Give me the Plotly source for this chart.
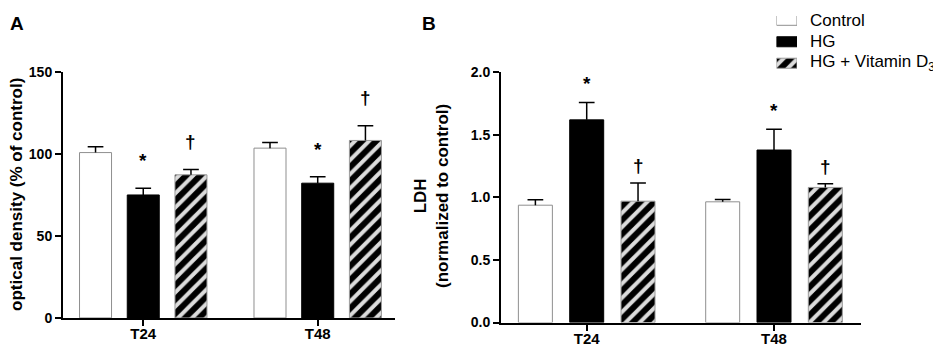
import plotly.graph_objects as go

# ---------------- data ----------------
categories = ["T24", "T48"]
series = ["Control", "HG", "HG + Vitamin D<sub>3</sub>"]

od_control = [101.0, 103.7]
od_hg = [75.1, 82.3]
od_vit = [87.4, 108.4]
od_control_err = [3.5, 3.5]
od_hg_err = [4.1, 3.9]
od_vit_err = [3.2, 9.0]
od_marks = [["", "*", "†"], ["", "*", "†"]]

ldh_control = [0.938, 0.965]
ldh_hg = [1.62, 1.379]
ldh_vit = [0.970, 1.080]
ldh_control_err = [0.043, 0.019]
ldh_hg_err = [0.139, 0.166]
ldh_vit_err = [0.145, 0.029]
ldh_marks = [["", "*", "†"], ["", "*", "†"]]

od_ticks = [0, 50, 100, 150]
ldh_ticks = [0.0, 0.5, 1.0, 1.5, 2.0]
ldh_ticktext = ["0.0", "0.5", "1.0", "1.5", "2.0"]

# ---------------- layout helpers (target picture px -> paper fraction) ----------------
W, H = 933, 350
XOFF = 8
YSCALE, YOFF = 0.952, 16.5


def fx(X):
    return (X - XOFF) / W


def pyy(Y):
    return (Y - YOFF) / YSCALE


def fy(Y):
    return 1 - pyy(Y) / H


FONT = "Liberation Sans, Arial, Helvetica, sans-serif"
STRIPE = dict(shape="/", fgcolor="black", fgopacity=1, bgcolor="#dcdcdc", size=10, solidity=0.6)
bar_styles = [
    dict(color="white", line=dict(color="#8f8f8f", width=1)),
    dict(color="black", line=dict(color="black", width=1)),
    dict(color="#dcdcdc", line=dict(color="#9a9a9a", width=1), pattern=STRIPE),
]

fig = go.Figure()

panels = [
    dict(xa="x", ya="y", vals=[od_control, od_hg, od_vit],
         errs=[od_control_err, od_hg_err, od_vit_err], marks=od_marks,
         width=0.1835, step=0.2735, cap=0.045,
         shift={"*": 15, "†": 16}),
    dict(xa="x2", ya="y2", vals=[ldh_control, ldh_hg, ldh_vit],
         errs=[ldh_control_err, ldh_hg_err, ldh_vit_err], marks=ldh_marks,
         width=0.1815, step=0.274, cap=0.042,
         shift={"*": 6, "†": 5}),
]

annotations = []
for p in panels:
    base = list(range(len(categories)))
    for k, (vals, errs) in enumerate(zip(p["vals"], p["errs"])):
        off = (k - 1) * p["step"]
        fig.add_trace(go.Bar(
            x=base, y=vals, width=p["width"], offset=off - p["width"] / 2,
            marker=bar_styles[k], name=series[k], showlegend=False,
            xaxis=p["xa"], yaxis=p["ya"],
        ))
        ex, ey = [], []
        for i, (v, e) in enumerate(zip(vals, errs)):
            xc = base[i] + off
            ex += [xc, xc, None, xc - p["cap"], xc + p["cap"], None]
            ey += [v, v + e, None, v + e, v + e, None]
            mark = p["marks"][i][k]
            if mark:
                annotations.append(dict(
                    x=xc, y=v + e, xref=p["xa"], yref=p["ya"], text=mark,
                    showarrow=False, yanchor="bottom", yshift=p["shift"][mark],
                    font=dict(family=FONT, size=19, color="black", weight="bold"),
                ))
        fig.add_trace(go.Scatter(
            x=ex, y=ey, mode="lines", line=dict(color="black", width=1.5),
            showlegend=False, hoverinfo="skip", xaxis=p["xa"], yaxis=p["ya"],
        ))

# ---------------- legend (swatches drawn as bars on a hidden axis) ----------------
legend_rows = list(range(len(series)))
row0, row_step, leg_h = 4.5, 22.5, 90.0      # figure px
for k, name in enumerate(series):
    fig.add_trace(go.Bar(
        x=[1], y=[legend_rows[k]], orientation="h", width=10.5 / row_step, base=0,
        marker=bar_styles[k], showlegend=False, hoverinfo="skip",
        xaxis="x3", yaxis="y3",
    ))
    annotations.append(dict(
        x=fx(808), y=legend_rows[k], xref="paper", yref="y3", text=name,
        showarrow=False, xanchor="left", yanchor="middle",
        font=dict(family=FONT, size=17, color="black"),
    ))

axis_common = dict(
    showgrid=False, zeroline=False, showline=True, linecolor="black", linewidth=2,
    ticks="outside", ticklen=6, tickwidth=2, tickcolor="black",
    tickfont=dict(family=FONT, size=14, color="black", weight="bold"),
)
xaxis_extra = dict(tickfont=dict(family=FONT, size=15, color="black", weight="bold"),
                   ticklabelstandoff=-5)

fig.update_layout(
    width=W, height=H,
    margin=dict(l=0, r=0, t=0, b=0),
    paper_bgcolor="white", plot_bgcolor="white",
    barmode="overlay",
    showlegend=False,
    xaxis=dict(axis_common, **xaxis_extra, domain=[fx(63), fx(395)], range=[-0.46, 1.443],
               tickvals=[0, 1], ticktext=categories, anchor="y"),
    yaxis=dict(axis_common, domain=[fy(317.7), fy(72.7)], range=[0, 150],
               tickvals=od_ticks, anchor="x"),
    xaxis2=dict(axis_common, **xaxis_extra, domain=[fx(501), fx(861)], range=[-0.4576, 1.4645],
                tickvals=[0, 1], ticktext=categories, anchor="y2"),
    yaxis2=dict(axis_common, domain=[fy(322.3), fy(72.7)], range=[0, 2],
                tickvals=ldh_ticks, ticktext=ldh_ticktext, anchor="x2"),
    xaxis3=dict(domain=[fx(776.5), fx(797)], range=[0, 1], visible=False, fixedrange=True),
    yaxis3=dict(domain=[1 - leg_h / H, 1],
                range=[(leg_h - row0) / row_step, -row0 / row_step],
                visible=False, fixedrange=True, anchor="x3"),
)

annotations += [
    dict(x=fx(8), y=1, xref="paper", yref="paper", text="A", showarrow=False,
         xanchor="left", yanchor="top", yshift=5,
         font=dict(family=FONT, size=19, color="black", weight="bold")),
    dict(x=fx(420), y=1, xref="paper", yref="paper", text="B", showarrow=False,
         xanchor="left", yanchor="top", yshift=5,
         font=dict(family=FONT, size=19, color="black", weight="bold")),
    dict(x=fx(17), y=fy(195), xref="paper", yref="paper",
         text="optical density (% of control)", textangle=-90, showarrow=False,
         xanchor="center", yanchor="middle",
         font=dict(family=FONT, size=17, color="black", weight="bold")),
    dict(x=fx(432), y=fy(196), xref="paper", yref="paper",
         text="LDH<br>(normalized to control)", textangle=-90, showarrow=False,
         xanchor="center", yanchor="middle",
         font=dict(family=FONT, size=17, color="black", weight="bold")),
]
fig.update_layout(annotations=annotations)

fig.write_html("out.html")
